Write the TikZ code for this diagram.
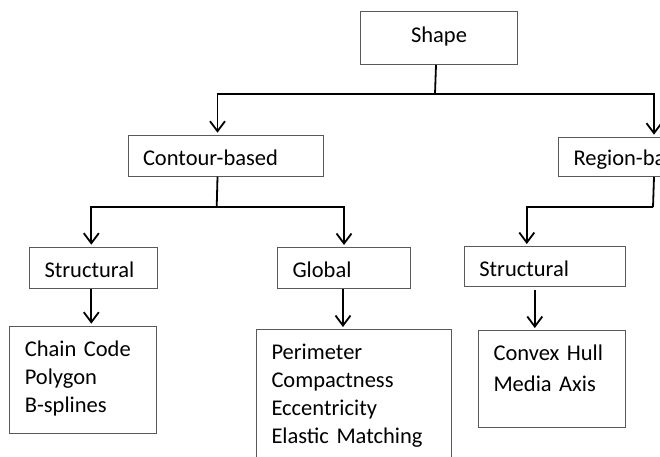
\documentclass[tikz,border=0pt]{standalone}
\usepackage{fontspec}
\setmainfont{Carlito}
\usepackage{tikz}
\usetikzlibrary{arrows.meta}

\begin{document}
\begin{tikzpicture}[x=1pt, y=-1pt,
  every node/.style={font=\fontsize{22.5pt}{28pt}\selectfont},
  box/.style={draw=black!65, line width=1pt, anchor=north west, align=left,
    inner xsep=15pt, inner ysep=0pt, text height=30pt, text depth=11pt},
  link/.style={line width=1.8pt, -{Straight Barb[length=10pt,width=15pt]}, shorten >=2pt},
  stem/.style={line width=1.8pt}]
\path[use as bounding box, clip] (0,0) rectangle (660,456);

\node[box, align=center, text width=127pt, text height=31pt, text depth=22pt] (shape) at (360,11) {Shape};

\node[box, text width=165pt] (contour) at (127.5,134.7) {Contour-based};
\node[box, text width=165pt, text height=28.3pt] (region) at (558,136.7) {Region-based};

\node[box, text width=97.6pt] (struct1) at (29,246.7) {Structural};
\node[box, text width=103pt] (global) at (277,247) {Global};
\node[box, text width=131pt, text depth=10pt] (struct2) at (463.8,246) {Structural};

\node[box, text width=117pt, text depth=77.7pt] (chain) at (9.3,325.7) {Chain Code\\Polygon\\B-splines};
\node[box, text width=165pt, text depth=101pt] (perim) at (256,329) {Perimeter\\Compactness\\Eccentricity\\Elastic Matching};
\node[box, text width=117pt, text depth=67pt] (hull) at (478,330) {Convex Hull\\[3pt]Media Axis};

\coordinate (top) at (435,94);
\coordinate (left) at (216.7,207);
\coordinate (right) at (653,207);

\draw[stem] ([xshift=-3pt]shape.south) -- (top);
\draw[link] (top) -| ([xshift=-8pt]contour.north);
\draw[link] (top) -| ([xshift=-2pt]region.north);

\draw[stem] ([xshift=-8pt]contour.south) -- (left);
\draw[link] (left) -| ([xshift=-2pt]struct1.north);
\draw[link] (left) -| (global.north);
\draw[stem] ([xshift=-2pt]region.south) -- (right);
\draw[link] (right) -| ([xshift=-18pt]struct2.north);

\draw[link] ([xshift=-2pt]struct1.south) -- ([xshift=-2pt]struct1.south |- chain.north);
\draw[link] ([xshift=-1pt]global.south) -- ([xshift=-1pt]global.south |- perim.north);
\draw[link, shorten <=3pt] ([xshift=-10pt]struct2.south) -- ([xshift=-10pt]struct2.south |- hull.north);
\end{tikzpicture}
\end{document}
